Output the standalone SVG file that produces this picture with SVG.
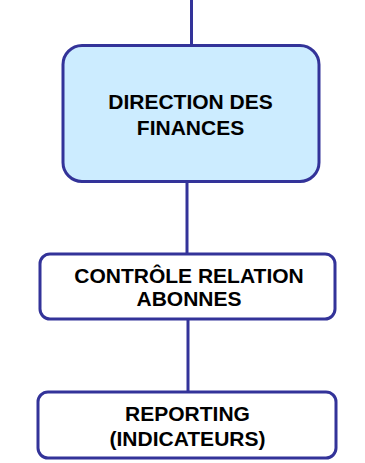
<svg xmlns="http://www.w3.org/2000/svg" width="365" height="463" viewBox="0 0 365 463">
<style>
.box{stroke:#333399;stroke-width:3;fill:#ffffff}
.c{stroke:#333399;stroke-width:3;fill:none}
text{font-family:"Liberation Sans",Arial,sans-serif;font-weight:bold;font-size:21px;fill:#000;text-anchor:middle}
</style>
<rect width="365" height="463" fill="#ffffff"/>
<g id="connectors">
<line class="c" x1="191.5" y1="0" x2="191.5" y2="45.5"/>
<line class="c" x1="187" y1="181.5" x2="187" y2="254"/>
<line class="c" x1="188" y1="319" x2="188" y2="392"/>
</g>
<g id="direction-finances">
<rect class="box" x="63" y="45.5" width="256" height="136" rx="19" style="fill:#CCECFF"/>
<text x="190.5" y="109">DIRECTION DES</text>
<text x="190.5" y="135">FINANCES</text>
</g>
<g id="controle-relation">
<rect class="box" x="40" y="254" width="295" height="65" rx="10"/>
<text x="189" y="283">CONTRÔLE RELATION</text>
<text x="189" y="306">ABONNES</text>
</g>
<g id="reporting">
<rect class="box" x="38" y="392" width="298" height="66" rx="10"/>
<text x="187.5" y="421">REPORTING</text>
<text x="187.5" y="446">(INDICATEURS)</text>
</g>
</svg>
